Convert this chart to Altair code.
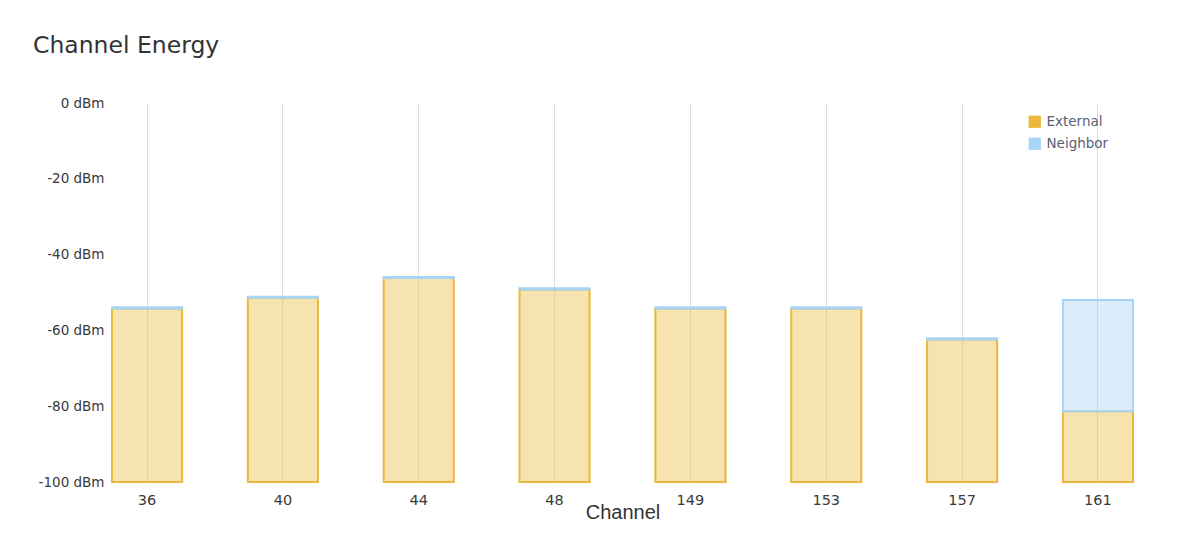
import altair as alt
import pandas as pd

channels = ["36", "40", "44", "48", "149", "153", "157", "161"]
external_top = [-54.2, -51.4, -46.2, -49.2, -54.2, -54.2, -62.4, -81.3]
neighbor_top = [-53.9, -51.1, -45.9, -48.9, -53.9, -53.9, -62.1, -52.0]
floor_dbm = -100
series = ["External", "Neighbor"]
colors = ["#eab83a", "#a8d4f5"]
y_ticks = [0, -20, -40, -60, -80, -100]

rows = []
for c, e, n in zip(channels, external_top, neighbor_top):
    rows.append({"Channel": c, "Series": "External", "low": floor_dbm, "high": e})
    rows.append({"Channel": c, "Series": "Neighbor", "low": e, "high": n})
df = pd.DataFrame(rows)

color_scale = alt.Scale(domain=series, range=colors)

chart = alt.Chart(df).mark_bar(fillOpacity=0.4, strokeWidth=2).encode(
    x=alt.X("Channel:N", sort=channels,
            scale=alt.Scale(paddingInner=0.484, paddingOuter=0),
            axis=alt.Axis(title="Channel", labelAngle=0, grid=True, bandPosition=0.5,
                          gridColor="#dcdcdc", gridWidth=1, domain=False, ticks=False,
                          labelPadding=11, labelFontSize=14.5, labelColor="#3a3a3a",
                          labelFont="DejaVu Sans", titleFont="Liberation Sans", titleFontSize=20,
                          titleFontWeight="normal", titleColor="#333333", titlePadding=-4)),
    y=alt.Y("high:Q", scale=alt.Scale(domain=[-100, 0], nice=False),
            axis=alt.Axis(title=None, values=y_ticks, labelExpr="datum.value + ' dBm'",
                          grid=False, domain=False, ticks=False, labelPadding=8,
                          labelFontSize=13.5, labelColor="#3a3a3a", labelFont="DejaVu Sans")),
    y2="low:Q",
    fill=alt.Fill("Series:N", scale=color_scale,
                  legend=alt.Legend(title=None, orient="none", legendX=916, legendY=12,
                                    symbolType="square", symbolSize=150, symbolOpacity=1,
                                    symbolStrokeWidth=0, labelFontSize=13.5, labelFont="DejaVu Sans",
                                    labelColor="#5a5f73", rowPadding=7, labelOffset=5)),
    stroke=alt.Stroke("Series:N", scale=color_scale, legend=None),
    order=alt.Order("Series:N"),
).properties(
    width=1021,
    height=379,
    title=alt.TitleParams("Channel Energy", anchor="start", frame="group", dx=-79, offset=39,
                          fontSize=23.5, font="DejaVu Sans", fontWeight="normal", color="#333333"),
    autosize=alt.AutoSizeParams(type="none"),
    padding={"left": 104, "top": 95, "right": 37, "bottom": 56},
).configure(background="white").configure_view(stroke=None, strokeWidth=0)

chart.save("out.html", embed_options={"renderer": "svg", "actions": False})
